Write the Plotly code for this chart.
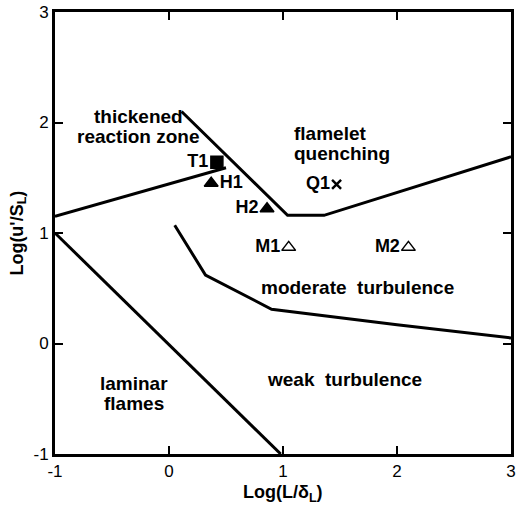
import plotly.graph_objects as go

# ---- data ----
# regime boundary lines (log10 L/delta_L, log10 u'/S_L)
thick_x = [-1.0, 0.5]
thick_y = [1.15, 1.59]
quench_x = [0.11, 1.04, 1.36, 3.0]
quench_y = [2.10, 1.16, 1.16, 1.69]
laminar_x = [-1.0, 0.98]
laminar_y = [1.0, -1.0]
moderate_x = [0.05, 0.32, 0.90, 2.0, 3.0]
moderate_y = [1.07, 0.62, 0.31, 0.17, 0.05]

# measurement points
pt_names = ["T1", "H1", "H2", "Q1", "M1", "M2"]
pt_x = [0.42, 0.37, 0.86, 1.47, 1.05, 2.10]
pt_y = [1.64, 1.45, 1.22, 1.44, 0.87, 0.87]
pt_symbols = ["square", "triangle-up", "triangle-up", "x-thin-open",
              "triangle-up-open", "triangle-up-open"]
pt_sizes = [12, 12, 12, 9, 12, 12]
pt_textpos = ["middle left", "middle right", "middle left", "middle left",
              "middle left", "middle left"]

# region labels (one entry per text line)
region_text = ["thickened", "reaction zone", "flamelet", "quenching",
               "moderate  turbulence", "weak  turbulence", "laminar", "flames"]
region_x = [-0.27, -0.27, 1.08, 1.08, 1.655, 1.54, -0.305, -0.305]
region_y = [2.05, 1.87, 1.90, 1.72, 0.51, -0.33, -0.36, -0.54]
region_anchor = ["center", "center", "left", "left", "center", "center", "center", "center"]

tick_vals = [-1, 0, 1, 2, 3]
tick_text = ["-1", "0", "1", "2", "3"]

fig = go.Figure()
line_style = dict(color="black", width=3)
for xs, ys in [(thick_x, thick_y), (quench_x, quench_y),
               (laminar_x, laminar_y), (moderate_x, moderate_y)]:
    fig.add_trace(go.Scatter(x=xs, y=ys, mode="lines", line=line_style,
                             showlegend=False, hoverinfo="skip"))

for n, x, y, s, sz, tp in zip(pt_names, pt_x, pt_y, pt_symbols, pt_sizes, pt_textpos):
    fig.add_trace(go.Scatter(
        x=[x], y=[y], mode="markers+text", text=[n], textposition=tp,
        textfont=dict(family="Arial", size=18, color="black", weight="bold"),
        marker=dict(symbol=s, size=sz, color="black",
                    line=dict(color="black", width=2.5 if s == "x-thin-open" else 1.5)),
        showlegend=False))

for t, x, y, a in zip(region_text, region_x, region_y, region_anchor):
    fig.add_annotation(x=x, y=y, text=t, showarrow=False, xanchor=a,
                       yanchor="middle",
                       font=dict(family="Arial", size=19, color="black", weight="bold"))

fig.add_annotation(xref="paper", yref="paper", x=0.5, y=-0.09,
                   text="Log(L/δ<sub>L</sub>)", showarrow=False,
                   xanchor="center", yanchor="middle",
                   font=dict(family="Arial", size=18, color="black", weight="bold"))
fig.add_annotation(xref="paper", yref="paper", x=-0.082, y=0.5,
                   text="Log(u'/S<sub>L</sub>)", showarrow=False, textangle=-90,
                   xanchor="center", yanchor="middle",
                   font=dict(family="Arial", size=18, color="black", weight="bold"))

axis_common = dict(showline=True, linecolor="black", linewidth=3, mirror="ticks",
                   ticks="inside", ticklen=8, tickwidth=2, tickcolor="black",
                   showgrid=False, zeroline=False,
                   tickvals=tick_vals, ticktext=tick_text,
                   tickfont=dict(family="Arial", size=17, color="black"))
fig.update_xaxes(range=[-1, 3], **axis_common)
fig.update_yaxes(range=[-1, 3], **axis_common)

fig.update_layout(width=519, height=505,
                  margin=dict(l=55, r=3, t=12, b=51),
                  plot_bgcolor="white", paper_bgcolor="white")

fig.write_html("out.html")
